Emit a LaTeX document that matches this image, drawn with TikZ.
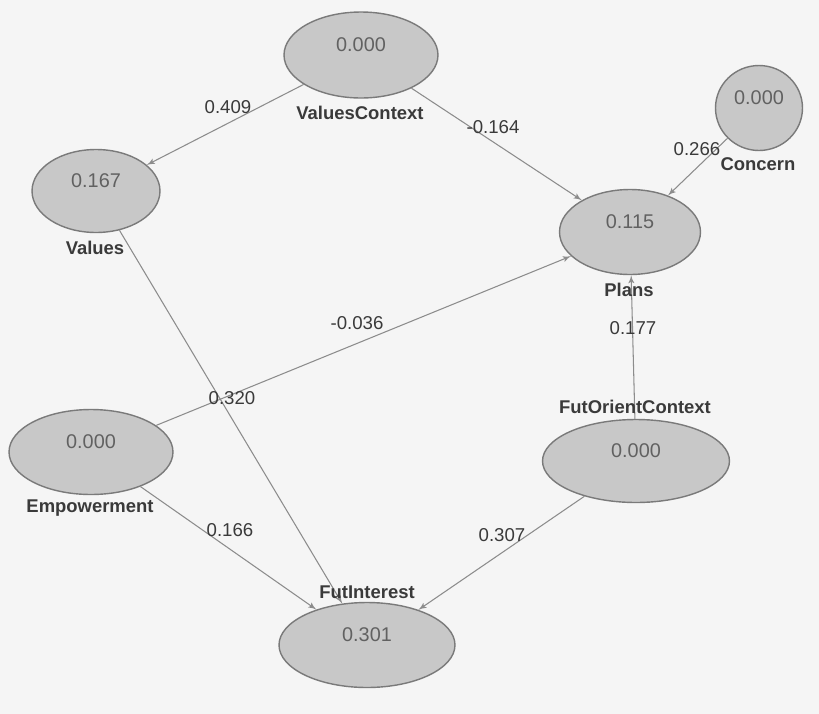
\documentclass[tikz,border=0pt]{standalone}
\usepackage{fontspec}
\setmainfont{Liberation Sans}
\usepackage{tikz}
\usetikzlibrary{positioning,arrows,shapes.geometric}
\definecolor{bgcol}{HTML}{F5F5F5}
\definecolor{latfill}{HTML}{C8C8C8}
\definecolor{latdraw}{HTML}{7A7A7A}
\definecolor{linkcol}{HTML}{8C8C8C}
\definecolor{txtcol}{HTML}{3A3A3A}
\tikzset{
    latent/.style = {
        draw=latdraw,
        fill=latfill,
        shape=ellipse,
        inner sep=0pt,
        text depth=12pt,
        text=black!62,
        font=\fontsize{11.3}{13}\selectfont,
        line width=0.8pt
    },
    varlabel/.style = {
        shape=rectangle,
        inner sep=1pt,
        text=txtcol,
        font=\fontsize{10.5}{12}\selectfont\bfseries
    },
    coef/.style = {
        shape=rectangle,
        inner sep=1pt,
        text=txtcol,
        font=\fontsize{10.6}{12}\selectfont
    },
    link/.style = {
        draw=linkcol,
        line width=0.6pt
    },
    >=latex',
}
\begin{document}
\begin{tikzpicture}[x=0.02cm, y=-0.02cm]
            \fill[bgcol] (0,0) rectangle (819,714);

            \node[latent, minimum width=3.08cm, minimum height=1.72cm] (vc) at (361,55) {0.000};
            \node[latent, minimum width=2.56cm, minimum height=1.66cm] (val) at (96,191) {0.167};
            \node[latent, minimum width=1.74cm, minimum height=1.70cm] (con) at (759,108) {0.000};
            \node[latent, minimum width=2.82cm, minimum height=1.70cm] (pl) at (630,232) {0.115};
            \node[latent, minimum width=3.28cm, minimum height=1.70cm] (emp) at (91,452) {0.000};
            \node[latent, minimum width=3.74cm, minimum height=1.66cm] (fo) at (636,461) {0.000};
            \node[latent, minimum width=3.52cm, minimum height=1.70cm] (fi) at (367,645) {0.301};

            \path[link, ->] (vc) -- (val);
            \path[link, ->] (vc) -- (pl);
            \path[link, ->] (con) -- (pl);
            \path[link, ->] (emp) -- (pl);
            \path[link, ->] (val) -- (fi);
            \path[link, ->] (emp) -- (fi);
            \path[link, ->] (fo) -- (fi);
            \path[link, ->] (fo) -- (pl);

            \node[varlabel] (vclab) at (360,113) {ValuesContext};
            \node[varlabel] (vallab) at (95,248) {Values};
            \node[varlabel] (conlab) at (758,164) {Concern};
            \node[varlabel] (pllab) at (629,290) {Plans};
            \node[varlabel] (emplab) at (90,508) {Empowerment};
            \node[varlabel] (folab) at (635,407) {FutOrientContext};
            \node[varlabel] (filab) at (367,592) {FutInterest};

            \node[coef] (c409) at (228,107) {0.409};
            \node[coef] (c164) at (493,127) {-0.164};
            \node[coef] (c266) at (697,149) {0.266};
            \node[coef] (c036) at (357,323) {-0.036};
            \node[coef] (c320) at (232,398) {0.320};
            \node[coef] (c166) at (230,530) {0.166};
            \node[coef] (c307) at (502,535) {0.307};
            \node[coef] (c177) at (633,328) {0.177};
\end{tikzpicture}
\end{document}
